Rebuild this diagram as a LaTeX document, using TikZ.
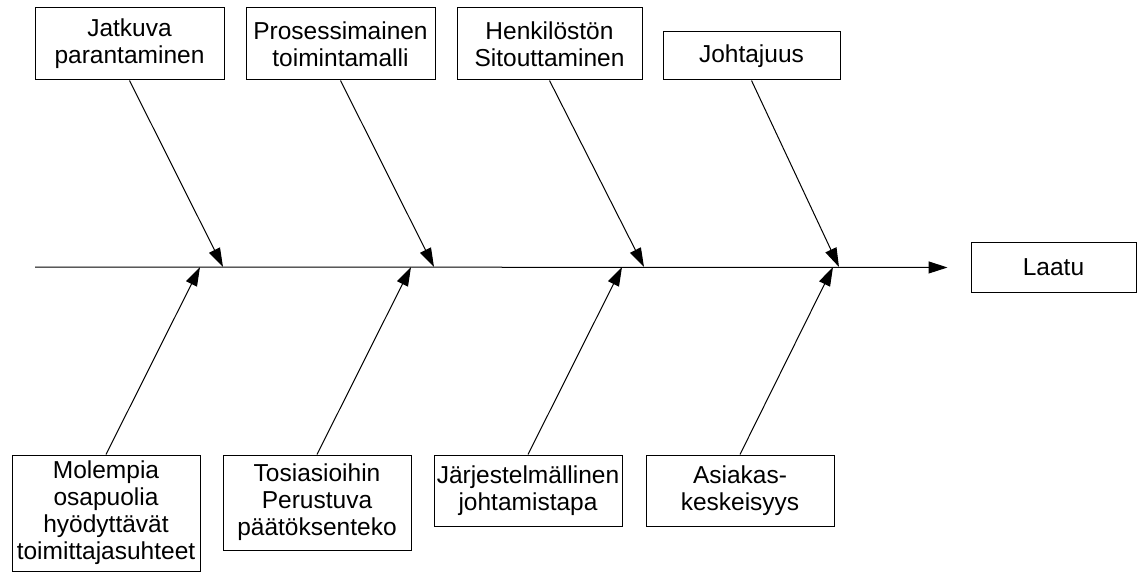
\documentclass[tikz,border=0pt]{standalone}
\usepackage{fontspec}
\setmainfont{Liberation Sans}
\usetikzlibrary{arrows.meta}

\begin{document}
\begin{tikzpicture}[
    x=1pt, y=-1pt,
    every node/.style={font=\fontsize{24.5}{27}\selectfont},
    cause/.style={
        draw=black, fill=white, line width=1pt,
        minimum width=188pt, align=center, inner sep=1pt
    },
    bone/.style={-{Triangle[length=19pt,width=12pt]}, line width=1pt},
]
\useasboundingbox (0,0) rectangle (1138,572);

% === Top row: causes ===
\node[cause, minimum width=189pt, minimum height=72pt] (jatkuva) at (129.5,44) {Jatkuva\\parantaminen};
\node[cause, minimum width=189pt, minimum height=72pt] (prosessi) at (340.5,44) {Prosessimainen\\toimintamalli};
\node[cause, minimum width=185pt, minimum height=72pt] (henkilosto) at (549.5,44) {Henkilöstön\\Sitouttaminen};
\node[cause, minimum width=177pt, minimum height=48pt] (johtajuus) at (751.5,56) {Johtajuus};

% === Effect ===
\node[cause, minimum width=165pt, minimum height=49pt] (laatu) at (1053.5,267.5) {Laatu};

% === Bottom row: causes ===
\node[cause, minimum height=116pt] (molemmat) at (106,513) {Molempia\\osapuolia\\hyödyttävät\\toimittajasuhteet};
\node[cause, minimum height=95pt] (tosiasiat) at (317,502.5) {Tosiasioihin\\Perustuva\\päätöksenteko};
\node[cause, minimum height=71pt] (jarjestelma) at (528,490.5) {Järjestelmällinen\\johtamistapa};
\node[cause, minimum height=71pt] (asiakas) at (740,490.5) {Asiakas-\\keskeisyys};

% === Spine ===
\coordinate (tail) at (35,267);
\draw[bone, shorten >=23pt] (tail) -- (laatu.west);

% joints on the spine
\coordinate (t1) at (223,267);
\coordinate (t2) at (434,267);
\coordinate (t3) at (644,267);
\coordinate (t4) at (839,267);
\coordinate (b1) at (200,267);
\coordinate (b2) at (411,267);
\coordinate (b3) at (622,267);
\coordinate (b4) at (833,267);

% === Bones ===
\draw[bone] (jatkuva.south) -- (t1);
\draw[bone] (prosessi.south) -- (t2);
\draw[bone] (henkilosto.south) -- (t3);
\draw[bone] (johtajuus.south) -- (t4);

\draw[bone] (molemmat.north) -- (b1);
\draw[bone] (tosiasiat.north) -- (b2);
\draw[bone] (jarjestelma.north) -- (b3);
\draw[bone] (asiakas.north) -- (b4);

\end{tikzpicture}
\end{document}
